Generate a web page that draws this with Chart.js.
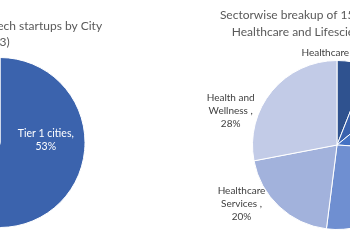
<!DOCTYPE html>
<html>
<head>
<meta charset="utf-8">
<script src="https://cdn.jsdelivr.net/npm/chart.js@4"></script>
<style>
  html, body { margin: 0; padding: 0; background: #fff; }
  body { position: relative; width: 350px; height: 240px; overflow: hidden; }
  canvas { position: absolute; top: 0; }
  #cityChart { left: -120px; }
  #sectorChart { left: 187px; }
</style>
</head>
<body>
<canvas id="cityChart" width="240" height="240"></canvas>
<canvas id="sectorChart" width="300" height="240"></canvas>
<script>
// left chart - startups by city (only the Tier 1 slice is in view)
const cityLabels = ['Tier 1 cities', 'Other cities'];
const cityShare = [53, 47];
const cityTitle = ['Number of Healthtech startups by City', '(2013)\u2003\u2002'];

// right chart - sectorwise breakup, clockwise from 12 o'clock
const sectorLabels = ['Healthcare IT', 'Medical Devices', 'Pharma', 'Biotech', 'Healthcare Services', 'Health and Wellness'];
const sectorShare = [6, 8, 12, 26, 20, 28];
const sectorTitle = ['Sectorwise breakup of 1500+ startups in the', 'Healthcare and Lifesciences space, India'];

function wrapText(ctx, text, maxW) {
    const words = text.split(' ');
    const lines = [];
    let cur = '';
    words.forEach(w => {
        const t = cur ? cur + ' ' + w : w;
        if (cur && ctx.measureText(t).width > maxW) {
            lines.push(cur);
            cur = w;
        } else {
            cur = t;
        }
    });
    lines.push(cur);
    return lines;
}

// excel style "name, value%" data labels
const sliceLabels = {
    id: 'sliceLabels',
    afterDatasetsDraw(chart, args, opts) {
        const ctx = chart.ctx;
        const meta = chart.getDatasetMeta(0);
        const values = chart.data.datasets[0].data;
        ctx.save();
        ctx.font = opts.font;
        ctx.textAlign = 'center';
        ctx.textBaseline = 'middle';
        meta.data.forEach((arc, i) => {
            const place = opts.place[i];
            const p = arc.getProps(['x', 'y', 'startAngle', 'endAngle', 'outerRadius'], true);
            const a = (p.startAngle + p.endAngle) / 2 + place.turn * Math.PI / 180;
            const lx = p.x + Math.cos(a) * p.outerRadius * place.dist;
            const ly = p.y + Math.sin(a) * p.outerRadius * place.dist;
            const lines = wrapText(ctx, chart.data.labels[i] + opts.sep + values[i] + '%', place.wrap);
            ctx.fillStyle = place.dist < 1 ? '#ffffff' : '#404040';
            lines.forEach((ln, k) => {
                ctx.fillText(ln, lx, ly + (k - (lines.length - 1) / 2) * opts.lineHeight);
            });
        });
        ctx.restore();
    }
};

const titleFont = { family: 'Lato', size: 12, weight: 'normal', lineHeight: 1.35 };

document.addEventListener('DOMContentLoaded', () => {
    new Chart(document.getElementById('cityChart'), {
        type: 'pie',
        data: {
            labels: cityLabels,
            datasets: [{
                data: cityShare,
                backgroundColor: ['#3B63AD', '#8FA5D6'],
                borderColor: '#ffffff',
                borderWidth: 1
            }]
        },
        options: {
            responsive: false,
            animation: false,
            layout: { padding: { bottom: 12 } },
            plugins: {
                legend: { display: false },
                tooltip: { enabled: false },
                title: {
                    display: true,
                    text: cityTitle,
                    color: '#595959',
                    font: titleFont,
                    padding: { top: 18, bottom: 6.6 }
                },
                sliceLabels: {
                    font: '10.5px Lato',
                    lineHeight: 13,
                    sep: ', ',
                    place: [
                        { turn: -9, dist: 0.54, wrap: 60 },
                        { turn: 0, dist: 1.2, wrap: 60 }
                    ]
                }
            }
        },
        plugins: [sliceLabels]
    });

    new Chart(document.getElementById('sectorChart'), {
        type: 'pie',
        data: {
            labels: sectorLabels,
            datasets: [{
                data: sectorShare,
                backgroundColor: ['#2F528F', '#3A62AE', '#4472C4', '#6F8FD1', '#A2B2DC', '#C2CBE7'],
                borderColor: '#ffffff',
                borderWidth: 1
            }]
        },
        options: {
            responsive: false,
            animation: false,
            layout: { padding: { bottom: 10 } },
            plugins: {
                legend: { display: false },
                tooltip: { enabled: false },
                title: {
                    display: true,
                    text: sectorTitle,
                    color: '#595959',
                    font: titleFont,
                    padding: { top: 7.4, bottom: 20.2 }
                },
                sliceLabels: {
                    font: '10px Lato',
                    lineHeight: 13,
                    sep: ' , ',
                    place: [
                        { turn: -8, dist: 1.09, wrap: 100 },
                        { turn: 0, dist: 1.25, wrap: 55 },
                        { turn: 0, dist: 1.25, wrap: 55 },
                        { turn: 0, dist: 1.25, wrap: 55 },
                        { turn: 15, dist: 1.33, wrap: 55 },
                        { turn: -22, dist: 1.32, wrap: 55 }
                    ]
                }
            }
        },
        plugins: [sliceLabels]
    });
});
</script>
</body>
</html>
